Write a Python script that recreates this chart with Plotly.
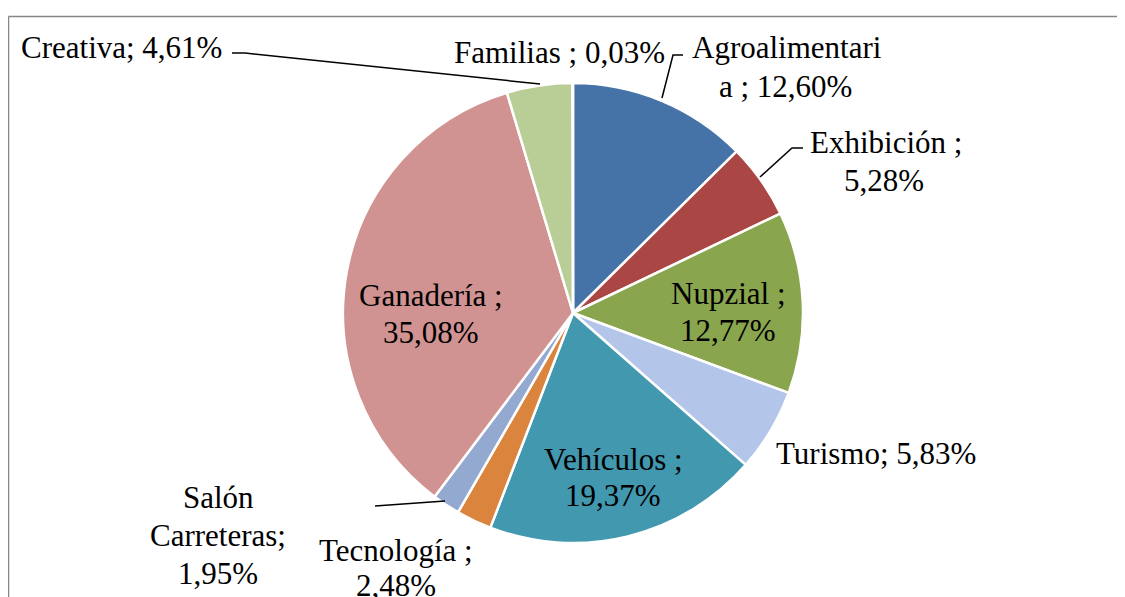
import plotly.graph_objects as go

W, H = 1125, 597
OFF = 8  # page body margin applied by the browser
FW, FH = W - OFF, H - OFF

categories = ["Agroalimentaria", "Exhibición", "Nupzial", "Turismo", "Vehículos",
              "Tecnología", "Salón Carreteras", "Ganadería", "Creativa", "Familias"]
values = [12.60, 5.28, 12.77, 5.83, 19.37, 2.48, 1.95, 35.08, 4.61, 0.03]
colors = ["#4572A7", "#AA4643", "#89A54E", "#B3C6EA", "#4198AF",
          "#DB843D", "#93A9CF", "#D19392", "#B9CD96", "#A99BBD"]

# label text lines and their centre positions (pixels in reference)
label_lines = {
    "Creativa": [("Creativa; 4,61%", 121, 48)],
    "Familias": [("Familias ; 0,03%", 559, 53)],
    "Agroalimentaria": [("Agroalimentari", 787, 48), ("a ; 12,60%", 786, 86)],
    "Exhibición": [("Exhibición ;", 886, 142), ("5,28%", 884, 180)],
    "Nupzial": [("Nupzial ;", 728, 293), ("12,77%", 728, 330)],
    "Turismo": [("Turismo; 5,83%", 876, 453)],
    "Vehículos": [("Vehículos ;", 613, 459), ("19,37%", 613, 495)],
    "Tecnología": [("Tecnología ;", 396, 550), ("2,48%", 396, 585)],
    "Salón Carreteras": [("Salón", 218, 497), ("Carreteras;", 218, 535), ("1,95%", 218, 573)],
    "Ganadería": [("Ganadería ;", 431, 296), ("35,08%", 431, 332)],
}
leaders = {
    "Creativa": [(232, 53), (245, 53), (540, 84)],
    "Agroalimentaria": [(683, 55), (673, 55), (662, 98)],
    "Exhibición": [(803, 148), (792, 148), (760, 177)],
    "Salón Carreteras": [(375, 506), (445, 501)],
}

cx, cy, r = 573, 313, 230

FONT = "Liberation Serif, Times New Roman, serif"


def px(x):
    return (x - OFF) / FW


def py(y):
    return 1 - (y - OFF) / FH


fig = go.Figure(go.Pie(
    labels=categories, values=values, sort=False, direction="clockwise", rotation=0,
    marker=dict(colors=colors, line=dict(color="white", width=2.5)),
    textinfo="none", hoverinfo="label+percent", showlegend=False,
    domain=dict(x=[px(cx - r), px(cx + r)], y=[py(cy + r), py(cy - r)]),
))

annotations = []
for cat, lines in label_lines.items():
    for text, x, y in lines:
        annotations.append(dict(
            text=text, x=px(x), y=py(y), xref="paper", yref="paper",
            xanchor="center", yanchor="middle", showarrow=False,
            font=dict(family=FONT, size=31, color="black"),
        ))

# chart-area border: only the top and left edges are visible in the frame
shapes = [dict(type="line", xref="paper", yref="paper",
               x0=px(8.5), x1=px(8.5), y0=0, y1=py(16.5),
               line=dict(color="#878787", width=1.5)),
          dict(type="line", xref="paper", yref="paper",
               x0=px(8.5), x1=1, y0=py(16.5), y1=py(16.5),
               line=dict(color="#878787", width=1.5))]
for cat, pts in leaders.items():
    path = "M " + " L ".join(f"{px(x)},{py(y)}" for x, y in pts)
    shapes.append(dict(type="path", xref="paper", yref="paper", path=path,
                       line=dict(color="black", width=1.5)))

fig.update_layout(
    width=FW, height=FH, margin=dict(l=0, r=0, t=0, b=0),
    paper_bgcolor="white", plot_bgcolor="white",
    font=dict(family=FONT),
    annotations=annotations, shapes=shapes,
)
fig.write_html("out.html")
